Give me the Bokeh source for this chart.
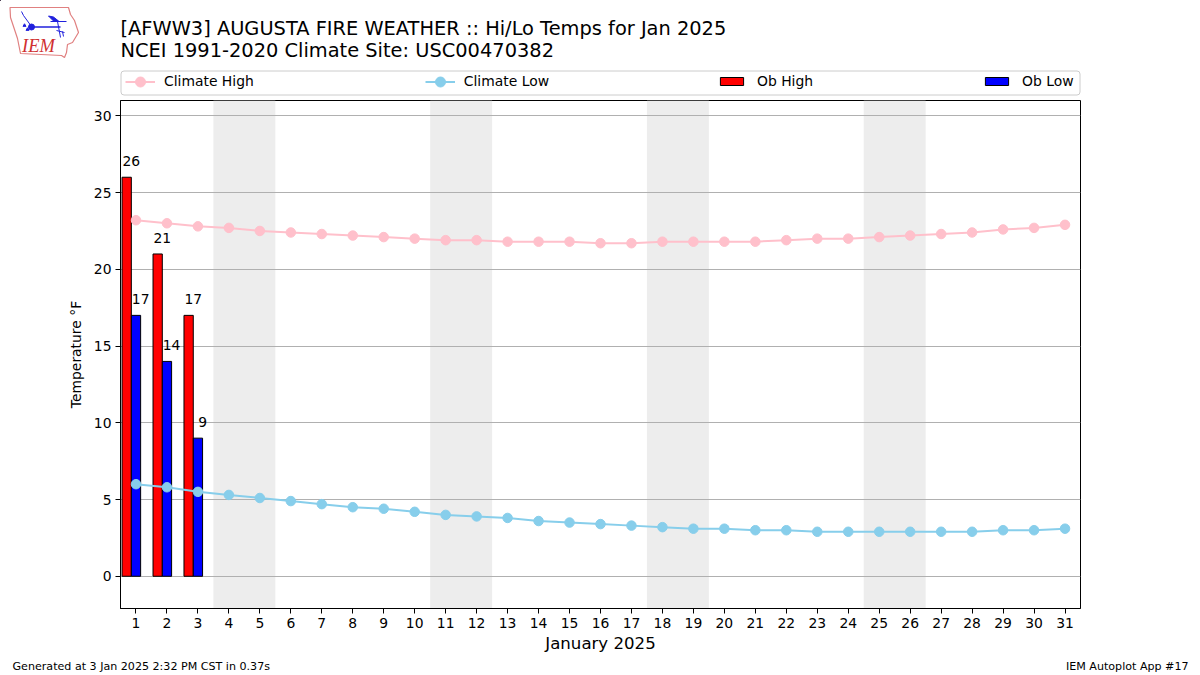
from bokeh.plotting import figure
from bokeh.embed import file_html
from bokeh.resources import INLINE
from bokeh.models import Range1d, FixedTicker, Legend, LegendItem
from bokeh.core.properties import value

FONT = "DejaVu Sans"
days = list(range(1, 32))
climate_high = [23.2, 23.0, 22.8, 22.7, 22.5, 22.4, 22.3, 22.2, 22.1, 22.0, 21.9, 21.9, 21.8, 21.8, 21.8, 21.7,
                21.7, 21.8, 21.8, 21.8, 21.8, 21.9, 22.0, 22.0, 22.1, 22.2, 22.3, 22.4, 22.6, 22.7, 22.9]
climate_low = [6.0, 5.8, 5.5, 5.3, 5.1, 4.9, 4.7, 4.5, 4.4, 4.2, 4.0, 3.9, 3.8, 3.6, 3.5, 3.4,
               3.3, 3.2, 3.1, 3.1, 3.0, 3.0, 2.9, 2.9, 2.9, 2.9, 2.9, 2.9, 3.0, 3.0, 3.1]
ob_days = [1, 2, 3]
ob_high = [26, 21, 17]
ob_low = [17, 14, 9]
weekend_start = [3.5, 10.5, 17.5, 24.5]
weekend_end = [5.5, 12.5, 19.5, 26.5]
y_ticks = [0, 5, 10, 15, 20, 25, 30]
title_lines = ["[AFWW3] AUGUSTA FIRE WEATHER :: Hi/Lo Temps for Jan 2025",
               "NCEI 1991-2020 Climate Site: USC00470382"]
footer_left = "Generated at 3 Jan 2025 2:32 PM CST in 0.37s"
footer_right = "IEM Autoplot App #17"
Y0, Y1 = -2.1, 31.0

p = figure(width=1200, height=557, output_backend="svg", toolbar_location=None,
           x_range=Range1d(0.5, 31.5), y_range=Range1d(Y0, Y1),
           min_border_left=120, min_border_right=120, min_border_top=1, min_border_bottom=48,
           background_fill_color="white", border_fill_color="white")
p.outline_line_color = "black"
p.outline_line_width = 1
p.outline_line_alpha = 1

p.xgrid.visible = False
p.ygrid.grid_line_color = "#b0b0b0"
p.ygrid.grid_line_width = 1
p.ygrid.ticker = FixedTicker(ticks=y_ticks)

for ax, ticks in ((p.xaxis[0], days), (p.yaxis[0], y_ticks)):
    ax.ticker = FixedTicker(ticks=ticks)
    ax.major_tick_in = 0
    ax.major_tick_out = 5
    ax.minor_tick_line_color = None
    ax.major_tick_line_color = "black"
    ax.axis_line_color = "black"
    ax.major_label_text_font = FONT
    ax.major_label_text_font_size = "13.9px"
    ax.major_label_text_color = "black"
    ax.major_label_standoff = 4
    ax.axis_label_text_font = FONT
    ax.axis_label_text_font_style = "normal"
    ax.axis_label_text_color = "black"
p.xaxis[0].axis_label = "January 2025"
p.xaxis[0].axis_label_text_font_size = "16.6px"
p.xaxis[0].axis_label_standoff = 3
p.yaxis[0].axis_label = "Temperature °F"
p.yaxis[0].axis_label_text_font_size = "13.9px"
p.yaxis[0].axis_label_standoff = 7

p.quad(left=weekend_start, right=weekend_end, bottom=[Y0] * 4, top=[Y1] * 4,
       fill_color="#ededed", line_color=None, level="image")

red_x = [d - 0.3 for d in ob_days]
blue_x = ob_days
p.vbar(x=red_x, top=ob_high, bottom=0, width=0.3, fill_color="red", line_color="black", line_width=1)
p.vbar(x=blue_x, top=ob_low, bottom=0, width=0.3, fill_color="blue", line_color="black", line_width=1)

p.line(days, climate_high, line_color="pink", line_width=2)
p.scatter(days, climate_high, marker="circle", size=9.5, fill_color="pink", line_color="pink")
p.line(days, climate_low, line_color="skyblue", line_width=2)
p.scatter(days, climate_low, marker="circle", size=9.5, fill_color="skyblue", line_color="skyblue")

label_kw = dict(text_font=value(FONT), text_font_size="13.9px", text_color="black",
                text_align="center", text_baseline="bottom", y_offset=-11)
p.text([d - 0.15 for d in ob_days], ob_high, text=[str(v) for v in ob_high], **label_kw)
p.text([d + 0.15 for d in ob_days], ob_low, text=[str(v) for v in ob_low], **label_kw)

# Header strip: ranges are page pixels, so the frame covers the whole strip
H = 99
head = figure(width=1200, height=H, output_backend="svg", toolbar_location=None,
              x_range=Range1d(0, 1200), y_range=Range1d(H, 0), x_axis_type=None, y_axis_type=None,
              min_border=0, outline_line_color=None, background_fill_color="white", border_fill_color="white")
head.grid.visible = False

title_kw = dict(text_font=value(FONT), text_font_size="19.4px", text_color="black",
                text_align="left", text_baseline="alphabetic")
head.text([120], [28], text=[title_lines[0]], **title_kw)
head.text([120], [50.3], text=[title_lines[1]], **title_kw)

# IEM logo
BLUE = "#2020dd"
head.patch([9.5, 68, 70, 74, 78, 72, 67, 66, 64, 61, 20, 17, 10], [7, 7, 14, 20, 32, 42, 44, 52, 57, 55, 53, 38, 17],
           fill_color=None, line_color="#e08080", line_width=1.2)
head.line([31, 60], [26.5, 26.5], line_color=BLUE, line_width=1.5)
head.patch([48, 53, 58, 53], [15.5, 16.5, 20.5, 20.5], fill_color=BLUE, line_color=BLUE)
head.line([50, 66], [21, 21], line_color=BLUE, line_width=1.2)
head.line([57, 60], [21, 37], line_color=BLUE)
head.line([31, 23, 21], [26, 15, 11], line_color=BLUE)
head.line([56, 64], [30, 32], line_color=BLUE)
head.line([62, 63], [31, 36], line_color=BLUE)
head.scatter([31], [26.5], marker="circle", size=6, fill_color=BLUE, line_color=BLUE)
head.scatter([24, 27], [25, 29], marker="triangle", size=3, fill_color=BLUE, line_color=BLUE)
head.text([21.5], [45], text=["IEM"], text_font=value("Liberation Serif"), text_font_style="italic",
          text_font_size="18.5px", text_color="#d03030", text_baseline="alphabetic")

# Legend frame and keys. The keys share the series' styles and sit off the strip: they only feed the legends.
head.quad(left=[120.5], right=[1079.5], top=[70.5], bottom=[94.5], fill_color="white",
          line_color="#cccccc", line_width=1, border_radius=3)
off_x, off_y = [-50, -40], [-50, -40]
lh_line = head.line(off_x, off_y, line_color="pink", line_width=2)
lh_mark = head.scatter(off_x, off_y, marker="circle", size=9.5, fill_color="pink", line_color="pink")
ll_line = head.line(off_x, off_y, line_color="skyblue", line_width=2)
ll_mark = head.scatter(off_x, off_y, marker="circle", size=9.5, fill_color="skyblue", line_color="skyblue")
lb_high = head.vbar(x=off_x, top=off_y, bottom=-60, width=1, fill_color="red", line_color="black")
lb_low = head.vbar(x=off_x, top=off_y, bottom=-60, width=1, fill_color="blue", line_color="black")

legend_kw = dict(orientation="horizontal", margin=0, padding=5, label_text_font=FONT,
                 label_text_font_size="13.9px", label_text_color="black",
                 border_line_color=None, background_fill_color=None, label_height=14)
# Two legends: a tall key gives the climate markers their size, a short one the bars their height
head.add_layout(Legend(items=[LegendItem(label="Climate High", renderers=[lh_line, lh_mark]),
                              LegendItem(label="Climate Low", renderers=[ll_line, ll_mark])],
                       location=(125, 5.5), spacing=171, glyph_width=30, glyph_height=25, label_standoff=9,
                       **legend_kw))
head.add_layout(Legend(items=[LegendItem(label="Ob High", renderers=[lb_high]),
                              LegendItem(label="Ob Low", renderers=[lb_low])],
                       location=(717, 10), spacing=169, glyph_width=29, glyph_height=10, label_standoff=11,
                       **legend_kw))

# Footer strip, page pixels again
F0 = 656
foot = figure(width=1200, height=675 - F0, output_backend="svg", toolbar_location=None,
              x_range=Range1d(0, 1200), y_range=Range1d(675, F0), x_axis_type=None, y_axis_type=None,
              min_border=0, outline_line_color=None, background_fill_color="white", border_fill_color="white")
foot.grid.visible = False
foot_kw = dict(text_font=value(FONT), text_font_size="11.1px", text_color="black", text_baseline="alphabetic")
foot.text([12], [666], text=[footer_left], text_align="left", **foot_kw)
foot.text([1188], [666], text=[footer_right], text_align="right", **foot_kw)

open("out.html", "w").write(file_html([head, p, foot], INLINE))
